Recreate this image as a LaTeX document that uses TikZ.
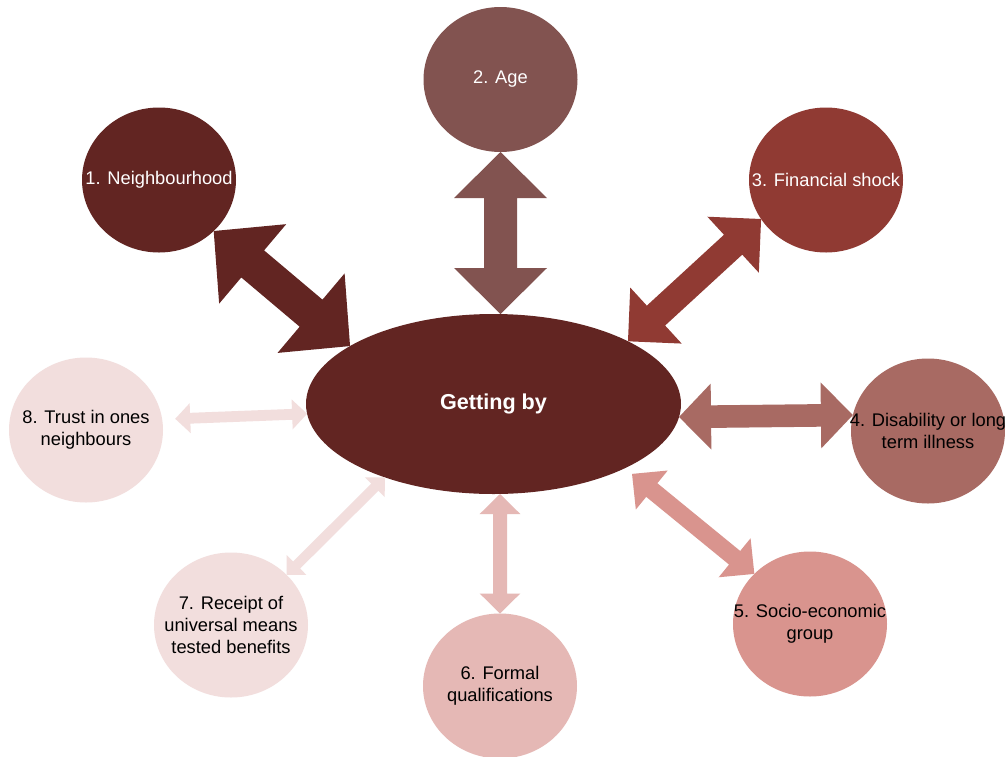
\documentclass[tikz,border=0pt]{standalone}
\usepackage{fontspec}
\setmainfont{Liberation Sans}
\usetikzlibrary{calc,shapes.geometric}
\definecolor{cDark}{RGB}{98,37,34}
\definecolor{cAge}{RGB}{130,83,80}
\definecolor{cShock}{RGB}{144,58,51}
\definecolor{cIll}{RGB}{168,106,99}
\definecolor{cGroup}{RGB}{217,148,142}
\definecolor{cQual}{RGB}{229,184,181}
\definecolor{cPale}{RGB}{242,222,221}
\def\blockarrow[#1](#2)(#3)(#4:#5:#6){
	\coordinate (ta) at (#2);
	\coordinate (tb) at (#3);
	\fill[#1] (ta) -- ($(ta)!#5pt!(tb)!#6pt!90:(tb)$) -- ($(ta)!#5pt!(tb)!#4pt!90:(tb)$)
		-- ($(tb)!#5pt!(ta)!#4pt!-90:(ta)$) -- ($(tb)!#5pt!(ta)!#6pt!-90:(ta)$) -- (tb)
		-- ($(tb)!#5pt!(ta)!#6pt!90:(ta)$) -- ($(tb)!#5pt!(ta)!#4pt!90:(ta)$)
		-- ($(ta)!#5pt!(tb)!#4pt!-90:(tb)$) -- ($(ta)!#5pt!(tb)!#6pt!-90:(tb)$) -- cycle;}
\tikzset{
	factor/.style={ellipse, minimum width=154pt, minimum height=145pt, inner sep=0pt, outer sep=0pt},
	ftext/.style={align=center, font={\fontsize{18.3}{22}\selectfont}}
}

\begin{document}
\begin{tikzpicture}[x=1pt, y=-1pt]
			%%%%% START %%%%%
			
			\path[use as bounding box, fill=white] (0, 0) rectangle (1005, 756);
			
			\node[ellipse, fill=cDark, minimum width=375pt, minimum height=180pt, inner sep=0pt, outer sep=0pt, text=white, font={\fontsize{21.6}{26}\selectfont\bfseries}] (gb) at (493.5, 404) {Getting by};
			
			\node[factor, fill=cDark, label={[ftext, white]center:1. Neighbourhood}] (nbhd) at (159, 180) {};
			\node[factor, fill=cAge, label={[ftext, white]center:2. Age}] (age) at (500.5, 79.5) {};
			\node[factor, fill=cShock, label={[ftext, white]center:3. Financial shock}] (shock) at (826, 180) {};
			\node[factor, fill=cIll, label={[ftext]center:4. Disability or long\\term illness}] (disab) at (928, 431) {};
			\node[factor, fill=cGroup, label={[ftext]center:5. Socio-economic\\group}] (seg) at (810, 624) {};
			\node[factor, fill=cQual, label={[ftext]center:6. Formal\\qualifications}] (qual) at (500, 686) {};
			\node[factor, fill=cPale, label={[ftext]center:7. Receipt of\\universal means\\tested benefits}] (benef) at (231, 625) {};
			\node[factor, fill=cPale, label={[ftext]center:8. Trust in ones\\neighbours}] (trust) at (86, 430) {};
			
			\blockarrow[cDark](nbhd.-43)(gb.158.5)(17.7:51:52)
			\blockarrow[cAge](age.south)(age.south |- gb.north)(16.5:46:46.5)
			\blockarrow[cShock](shock.211)(gb.25.5)(13.5:38:38)
			\blockarrow[cIll](gb.-4)(disab.168)(11.3:32:33)
			\blockarrow[cGroup]({$(seg.138)!158pt!(gb.-26.5)$})(seg.138)(8.8:25.5:25.2)
			\blockarrow[cQual](qual.north |- gb.south)(qual.north)(7:20:20.3)
			\blockarrow[cPale](gb.214.6)(benef.42)(5:14:14)
			\blockarrow[cPale](gb.183.5)({$(gb.183.5)!132pt!(trust.8)$})(5.4:15:15)
			
			%%%%% END %%%%%
\end{tikzpicture}
\end{document}
